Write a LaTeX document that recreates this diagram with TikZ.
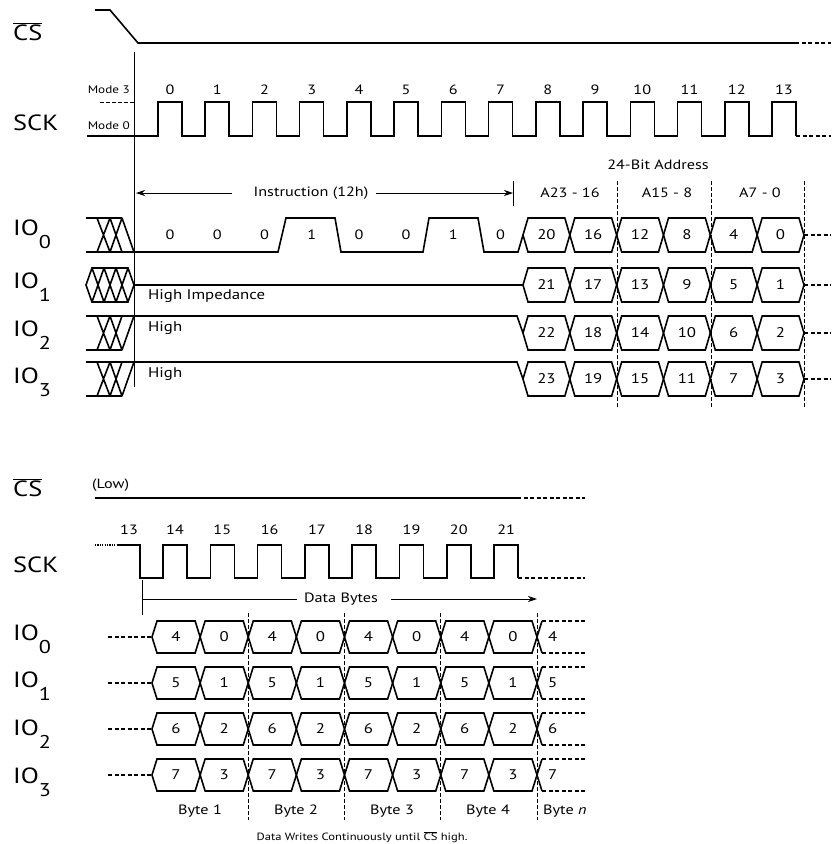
\documentclass[tikz,border=0pt]{standalone}
\usepackage{fontspec}
\setmainfont{PT Sans}[FakeStretch=1.2]
\usetikzlibrary{arrows.meta}
\newcommand{\fsz}[1]{\fontsize{#1}{#1}\selectfont}
\newcommand{\ncs}{$\overline{\mbox{CS}}$}
\newcommand{\hexcell}[6]{%
  \draw[sig] ({#1},{(#3+#4)/2}) -- ({#1+5},{#3}) -- ({#2-5},{#3})
    -- ({#2},{(#3+#4)/2}) -- ({#2-5},{#4}) -- ({#1+5},{#4}) -- cycle;
  \node[cellnum] (#6) at ({(#1+#2)/2},{(#3+#4)/2}) {#5};}

\begin{document}
\begin{tikzpicture}[x=1pt,y=-1pt,
  sig/.style={line width=1.6pt},
  sigdash/.style={line width=1.3pt, dash pattern=on 4pt off 2.5pt},
  guide/.style={line width=0.8pt},
  guidedash/.style={line width=0.8pt, dash pattern=on 3.5pt off 2.5pt},
  lbl/.style={anchor=base west, inner sep=0pt, font=\fsz{22}},
  num/.style={inner sep=0pt, font=\fsz{13.5}},
  cellnum/.style={inner sep=0pt, font=\fsz{14}},
  mode/.style={anchor=east, inner sep=0pt, font=\fsz{11}},
  note/.style={inner sep=0pt, font=\fsz{10.5}},
  tip/.style={-{Stealth[length=9pt,width=6pt]}}]
\useasboundingbox (0,0) rectangle (831,844);

% instruction and address phase
\node[lbl] (cs1) at (13,40) {\ncs};
\node[lbl] (sck1) at (13,130) {SCK};
\foreach \r/\y in {0/235,1/288,2/336,3/383}
  \node[lbl] (ioa\r) at (13,\y) {IO\raisebox{-13pt}{\fsz{18.5}\r}};

\draw[sig] (95,10) -- (110,10) -- (138,43) -- (795,43);
\draw[sigdash] (795,43) -- (831,43);

\node[mode] (m3) at (130,90) {Mode 3};
\node[mode] (m0) at (130,126) {Mode 0};
\draw[guidedash] (100,102) -- (134,102);
\draw[sig] (87,136) \foreach \i in {0,...,13} {
  -- ({158+47.23*\i},136) -- ({158+47.23*\i},102)
  -- ({182+47.23*\i},102) -- ({182+47.23*\i},136)};
\draw[sigdash] (796,136) -- (831,136);
\foreach \i in {0,...,13}
  \node[num] (clka\i) at ({170+47.23*\i},90) {\i};

\draw[guide] (134,52) -- (134,387);

\node[num] (instr) at (311,193) {Instruction (12h)};
\coordinate (instrL) at (136,193);
\coordinate (instrR) at (513,193);
\draw[guide,tip] ([xshift=-21pt]instr.west) -- (instrL);
\draw[guide,tip] ([xshift=7pt]instr.east) -- (instrR);
\draw[guide] (513,181) -- (513,206);

\node[num] (addr) at (658,165) {24-Bit Address};
\node[num] (a23) at (570,193) {A23 - 16};
\node[num] (a15) at (667,193) {A15 - 8};
\node[num] (a7) at (760,193) {A7 - 0};
\foreach \x in {617,711,804}
  \draw[guidedash] (\x,181) -- (\x,408);

% IO0 hatch and instruction bits
\draw[sig] (86,218) -- (122,218) (86,252) -- (134,252)
  (97,218) -- (110,252) (97,252) -- (110,218)
  (110,218) -- (122,252) (110,252) -- (122,218) (122,218) -- (134,252);
\draw[sig] (134,252) -- (278,252) -- (286,218) -- (335,218) -- (341,252)
  -- (423,252) -- (429,218) -- (478,218) -- (484,252) -- (518,252) -- (523,235);
\foreach \b [count=\i from 0] in {0,0,0,1,0,0,1,0}
  \node[num] (bit\i) at ({170+47.23*\i},235) {\b};

% IO1 hatch and high impedance
\draw[sig] (86,285) -- (92,268) -- (128,268) -- (134,285) -- (128,302) -- (92,302) -- cycle
  (92,268) -- (104,302) (104,268) -- (116,302) (116,268) -- (128,302)
  (92,302) -- (104,268) (104,302) -- (116,268) (116,302) -- (128,268);
\draw[sig] (134,285) -- (523,285);
\node[cellnum, anchor=west] (hiz) at (148,296) {High Impedance};

% IO2, IO3 hatch and high
\foreach \t [count=\j from 2] in {316,362} {
  \draw[sig] (86,\t) -- (517,\t) -- (523,\t+17) (86,\t+34) -- (122,\t+34)
    (97,\t) -- (110,\t+34) (97,\t+34) -- (110,\t)
    (110,\t) -- (122,\t+34) (110,\t+34) -- (122,\t) (122,\t+34) -- (134,\t);
  \node[cellnum, anchor=west] (high\j) at (148,\t+12) {High};
}

% address bytes
\foreach \r/\t in {0/218,1/268,2/316,3/362} {
  \foreach \k in {0,...,5} {
    \pgfmathtruncatemacro{\v}{20+\r-4*\k}
    \hexcell{523+46.83*\k}{569.83+46.83*\k}{\t}{\t+34}{\v}{a\r\k}
  }
  \draw[sigdash] (804,\t+17) -- (831,\t+17);
}

% data phase
\node[lbl] (cs2) at (13,496) {\ncs};
\node[lbl] (sck2) at (13,572) {SCK};
\foreach \r/\y in {0/640,1/687,2/735,3/783}
  \node[lbl] (iob\r) at (13,\y) {IO\raisebox{-13pt}{\fsz{18.5}\r}};

\node[num, anchor=west] (low) at (92,485) {(Low)};
\draw[sig] (95,498) -- (517,498);
\draw[sigdash] (517,498) -- (585,498);

\draw[line width=1.3pt, dash pattern=on 1.2pt off 1.2pt] (95,545) -- (117,545);
\draw[sig] (117,545) -- (140,545) -- (140,578) \foreach \k in {0,...,7} {
  -- ({163+47.3*\k},578) -- ({163+47.3*\k},545)
  -- ({187+47.3*\k},545) -- ({187+47.3*\k},578)};
\draw[sigdash] (518,578) -- (585,578);
\node[num] (clkb13) at (129,530) {13};
\foreach \k in {0,...,7} {
  \pgfmathtruncatemacro{\c}{14+\k}
  \node[num] (clkb\c) at ({175+47.3*\k},530) {\c};
}

\node[num] (dbytes) at (341,599) {Data Bytes};
\coordinate (dbL) at (142,599);
\coordinate (dbR) at (537,599);
\draw[guide] (dbL) -- ([xshift=-7pt]dbytes.west);
\draw[guide,tip] ([xshift=13pt]dbytes.east) -- (dbR);
\draw[guide] (142,580) -- (142,615);

\foreach \r/\t in {0/621,1/667,2/713,3/759} {
  \draw[sigdash] (108,\t+16) -- (152,\t+16);
  \foreach \k in {0,...,7} {
    \pgfmathtruncatemacro{\v}{\r+4*(1-mod(\k,2))}
    \hexcell{152+48.125*\k}{200.125+48.125*\k}{\t}{\t+32}{\v}{b\r\k}
  }
  \draw[sig] (542,\t) -- (537,\t+16) -- (542,\t+32);
  \draw[sigdash] (542,\t) -- (585,\t) (542,\t+32) -- (585,\t+32);
  \pgfmathtruncatemacro{\w}{\r+4}
  \node[cellnum, anchor=west] (bn\r) at (548,\t+16) {\w};
}

\foreach \x in {248,344,440,537}
  \draw[guidedash] (\x,613) -- (\x,820);
\foreach \x/\n in {200/1,296/2,392/3,488/4}
  \node[num] (byte\n) at (\x,811) {Byte \n};
\node[num, anchor=west] (byten) at (543,811) {Byte \textit{n}};
\node[note] (foot) at (362,837) {Data Writes Continuously until \ncs{} high.};
\end{tikzpicture}
\end{document}
